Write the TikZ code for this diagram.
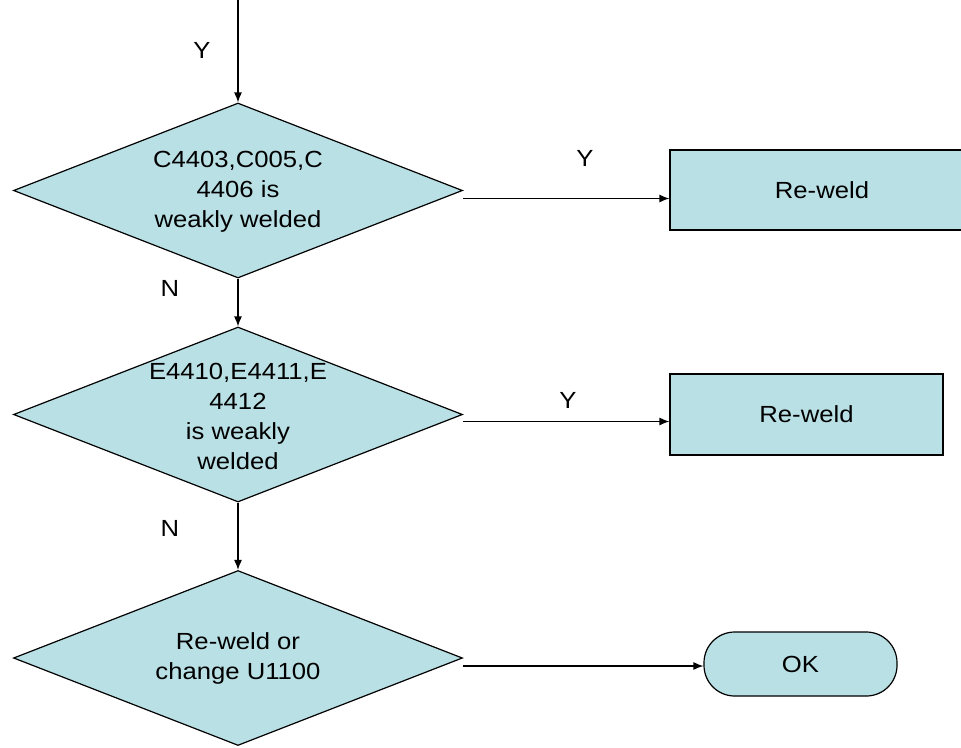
\documentclass[tikz,border=0pt]{standalone}
\usepackage{fontspec}
\setmainfont{Liberation Sans}[FakeStretch=1.1]
\usetikzlibrary{shapes.geometric,arrows.meta,calc}
\definecolor{boxfill}{RGB}{185,224,229}
\begin{document}
\begin{tikzpicture}[x=0.75pt,y=-0.75pt,
  every node/.style={font=\fontsize{17.5pt}{22.5pt}\selectfont},
  dec/.style={shape=diamond, draw=black, line width=0.9pt, fill=boxfill, inner sep=0pt,
    minimum width=336.75pt, minimum height=131.25pt, aspect=2.57},
  proc/.style={shape=rectangle, draw=black, line width=0.9pt, fill=boxfill},
  term/.style={shape=rectangle, draw=black, line width=0.9pt, fill=boxfill,
    rounded corners=23pt, minimum width=144.75pt, minimum height=48pt},
  arr/.style={line width=0.9pt, -{Latex[length=7.5pt,width=6pt]}},
  lbl/.style={inner sep=0pt}]
\useasboundingbox (0,0) rectangle (961,747);
\fill[white] (0,0) rectangle (961,747);

\node[dec] (d1) at (238,190.5) {};
\node[lbl, align=center] (t1) at (238,192) {C4403,C005,C\\4406 is\\weakly welded};
\node[dec] (d2) at (238,414.5) {};
\node[lbl, align=center] (t2) at (238,416) {E4410,E4411,E\\4412\\is weakly\\welded};
\node[dec] (d3) at (238,658) {};
\node[lbl, align=center] (t3) at (238,658) {Re-weld or\\change U1100};

\node[proc, minimum width=228.75pt, minimum height=60pt] (r1) at (822.5,190) {};
\node[lbl] (rt1) at (822,190) {Re-weld};
\node[proc, minimum width=204.75pt, minimum height=60.75pt] (r2) at (806.5,414.5) {Re-weld};
\node[term] (ok) at (800.5,664) {OK};

\coordinate (top) at (238,0);
\draw[arr] (top) -- (d1.north);
\draw[arr] ([yshift=-6pt]d1.east) coordinate (s1) -- (s1 -| r1.west);
\draw[arr] (d1.south) -- (d2.north);
\draw[arr] ([yshift=-5.25pt]d2.east) coordinate (s2) -- (s2 -| r2.west);
\draw[arr] (d2.south) -- (d3.north);
\draw[arr] ([yshift=-6pt]d3.east) coordinate (s3) -- (s3 -| ok.west);

\node[lbl] (y0) at (202,50) {Y};
\node[lbl] (y1) at (585,158) {Y};
\node[lbl] (n1) at (170,288) {N};
\node[lbl] (y2) at (568,400) {Y};
\node[lbl] (n2) at (170,528) {N};
\end{tikzpicture}
\end{document}
